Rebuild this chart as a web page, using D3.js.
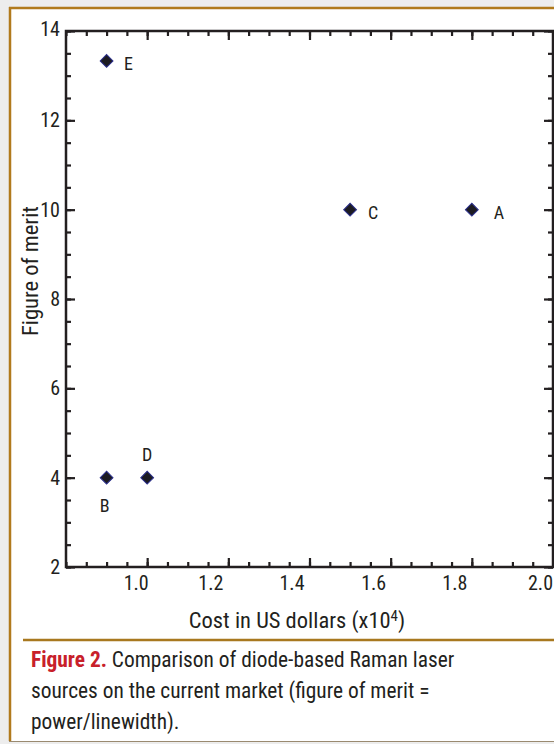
<!DOCTYPE html>
<html><head><meta charset="utf-8">
<script src="https://cdn.jsdelivr.net/npm/d3@7"></script>
<style>
html,body{margin:0;padding:0;background:#ededed;}
svg{display:block;}
text{font-family:"Liberation Sans Narrow","Roboto Condensed","Open Sans",sans-serif;fill:#231f20;}
</style></head>
<body>
<svg id="chart" width="554" height="744"></svg>
<script>
const names = ["A","B","C","D","E"];
const costs = [1.8, 0.9, 1.5, 1.0, 0.9];
const merits = [10, 4, 10, 4, 13.33];
const xTicks = [1.0, 1.2, 1.4, 1.6, 1.8, 2.0];
const yTicks = [2, 4, 6, 8, 10, 12, 14];
const xDomain = [0.8, 2.0];
const yDomain = [2, 14];
const xTitle = "Cost in US dollars (x10";
const yTitle = "Figure of merit";
const captionLines = [["Figure 2.", " Comparison of diode-based Raman laser"],["", "sources on the current market (figure of merit ="],["", "power/linewidth)."]];
// label placement: dx, dy relative to point
const labelPos = {A:[27,3], B:[-2,28], C:[23,3], D:[0,-23], E:[22,3]};
// the x tick labels in the original sit left of their tick marks
const xLabelShift = [-11.5, -18, -18, -17.5, -17.5, -13];

const svg = d3.select("#chart");
// card
svg.append("rect").attr("x",10).attr("y",8).attr("width",560).attr("height",733)
  .attr("fill","#fff").attr("stroke","none");
svg.append("line").attr("x1",10).attr("x2",10).attr("y1",7).attr("y2",741).attr("stroke","#b17a1c").attr("stroke-width",2.5);
svg.append("line").attr("x1",9).attr("x2",554).attr("y1",8).attr("y2",8).attr("stroke","#b17a1c").attr("stroke-width",2.5);
svg.append("line").attr("x1",9).attr("x2",554).attr("y1",741.5).attr("y2",741.5).attr("stroke","#9a8a70").attr("stroke-width",1);

const L=66,R=553,T=31,B=567;
const x = d3.scaleLinear().domain(xDomain).range([L,R]);
const y = d3.scaleLinear().domain(yDomain).range([B,T]);
const g = svg.append("g");
const col="#231f20";
const xMinor = d3.range(0.8,2.0001,0.05).map(v=>+v.toFixed(2));
const yMinor = d3.range(2,14.0001,0.5);

function axisBase(axis, tr){
  const a = g.append("g").attr("transform",tr).call(axis);
  a.select(".domain").remove();
  a.selectAll("line").attr("stroke",col).attr("stroke-width",2.2);
  a.attr("font-family",null);
  return a;
}
// minor ticks (inward)
axisBase(d3.axisBottom(x).tickValues(xMinor).tickSize(-5).tickFormat(""), `translate(0,${B})`);
axisBase(d3.axisTop(x).tickValues(xMinor).tickSize(-5).tickFormat(""), `translate(0,${T})`);
axisBase(d3.axisLeft(y).tickValues(yMinor).tickSize(-5).tickFormat(""), `translate(${L},0)`);
axisBase(d3.axisRight(y).tickValues(yMinor).tickSize(-5).tickFormat(""), `translate(${R},0)`);
// major ticks
const xb = axisBase(d3.axisBottom(x).tickValues(xTicks).tickSize(-9).tickPadding(9).tickFormat(d3.format(".1f")), `translate(0,${B})`);
axisBase(d3.axisTop(x).tickValues(xTicks).tickSize(-9).tickFormat(""), `translate(0,${T})`);
const yl = axisBase(d3.axisLeft(y).tickValues(yTicks).tickSize(-9).tickPadding(6).tickFormat(d3.format("d")), `translate(${L},0)`);
axisBase(d3.axisRight(y).tickValues(yTicks).tickSize(-9).tickFormat(""), `translate(${R},0)`);
xb.attr("font-size",20);
yl.attr("font-size",20);
xb.selectAll("text").attr("fill",col).attr("dy","0.71em").attr("dx",(d,i)=>xLabelShift[i]);
yl.selectAll("text").attr("fill",col);
yl.selectAll("text").filter(d=>d===14).attr("dy","0.2em");
// frame
g.append("rect").attr("x",L).attr("y",T).attr("width",R-L).attr("height",B-T)
  .attr("fill","none").attr("stroke",col).attr("stroke-width",2.5);

// axis titles
const xt = svg.append("text").attr("x",297).attr("y",628).attr("text-anchor","middle").attr("font-size",22.5);
xt.append("tspan").text(xTitle);
xt.append("tspan").text("4").attr("font-size",15).attr("dy",-7);
xt.append("tspan").text(")").attr("dy",7);
svg.append("text").attr("transform",`translate(38,271) rotate(-90)`).attr("text-anchor","middle").attr("font-size",22.5).text(yTitle);

// points
const pts = names.map((n,i)=>({n, c:costs[i], m:merits[i]}));
svg.selectAll("path.pt").data(pts).join("path").attr("class","pt")
  .attr("transform",d=>`translate(${x(d.c)},${y(d.m)}) rotate(45)`)
  .attr("d", d3.symbol().type(d3.symbolSquare).size(82))
  .attr("fill","#1c1b22").attr("stroke","#2b2f8c").attr("stroke-width",1);
svg.selectAll("text.lab").data(pts).join("text").attr("class","lab")
  .attr("x",d=>x(d.c)+labelPos[d.n][0]).attr("y",d=>y(d.m)+labelPos[d.n][1]+6)
  .attr("text-anchor","middle").attr("font-size",18).text(d=>d.n);

// separator
svg.append("line").attr("x1",23).attr("x2",554).attr("y1",640).attr("y2",640).attr("stroke","#a8781f").attr("stroke-width",2.5);
// caption
captionLines.forEach((ln,i)=>{
  const t = svg.append("text").attr("x",31).attr("y",667+i*31).attr("font-size",21.4);
  if(ln[0]) t.append("tspan").text(ln[0]).attr("font-weight","bold").attr("fill","#c8202a");
  t.append("tspan").text(ln[1]);
});
</script>
</body></html>
